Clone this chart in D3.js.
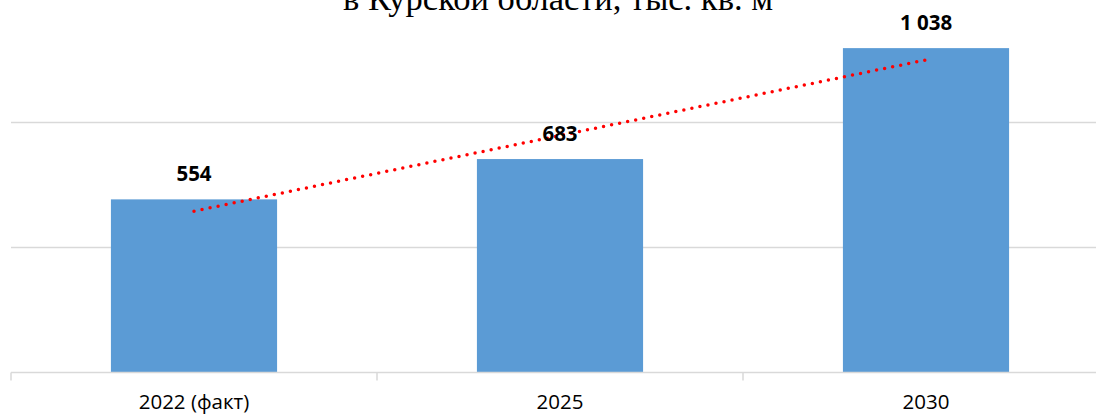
<!DOCTYPE html>
<html>
<head>
<meta charset="utf-8">
<script src="https://cdn.jsdelivr.net/npm/d3@7"></script>
<style>
    body { margin: 0; background: #fff; }
    svg { display: block; }
</style>
</head>
<body>
<div id="chart"></div>
<script>
"use strict";

var categories = ["2022 (факт)", "2025", "2030"];
var values = [554, 683, 1038];
var labels = ["554", "683", "1 038"];
var gridTicks = [0, 400, 800];
var titleText = "в Курской области, тыс. кв. м";

var WIDTH = 1096, HEIGHT = 414;

var svg = d3.select("#chart").append("svg")
    .attr("width", WIDTH)
    .attr("height", HEIGHT);

var x = d3.scaleBand()
    .domain(categories)
    .range([11, 1109])
    .paddingInner(0.546)
    .paddingOuter(0.273);

var y = d3.scaleLinear()
    .domain([0, 1200])
    .range([372.5, -2.5]);

// title - the original picture is cropped through it
svg.append("text")
    .attr("x", 558)
    .attr("y", 9.5)
    .attr("text-anchor", "middle")
    .style("font-family", "'Liberation Serif', 'Times New Roman', serif")
    .style("font-size", "34.5px")
    .style("fill", "#000")
    .text(titleText);

// gridlines
svg.append("g")
    .selectAll("line")
    .data(gridTicks.filter(function(d) { return d > 0; }))
    .enter().append("line")
    .attr("x1", 11)
    .attr("x2", 1109)
    .attr("y1", function(d) { return y(d); })
    .attr("y2", function(d) { return y(d); })
    .attr("stroke", "#d9d9d9")
    .attr("stroke-width", 1.5);

// bars
svg.append("g")
    .selectAll("rect")
    .data(values)
    .enter().append("rect")
    .attr("x", function(d, i) { return x(categories[i]); })
    .attr("width", x.bandwidth())
    .attr("y", function(d) { return y(d); })
    .attr("height", function(d) { return y(0) - y(d); })
    .attr("fill", "#5b9bd5");

// category axis: line with ticks on band boundaries
var axis = svg.append("g");
axis.append("line")
    .attr("x1", 11).attr("x2", 1109)
    .attr("y1", y(0)).attr("y2", y(0))
    .attr("stroke", "#d9d9d9")
    .attr("stroke-width", 1.5);

var bounds = d3.range(categories.length + 1).map(function(i) {
    return 11 + i * x.step();
});
axis.selectAll(".tick")
    .data(bounds)
    .enter().append("line")
    .attr("class", "tick")
    .attr("x1", function(d) { return d; })
    .attr("x2", function(d) { return d; })
    .attr("y1", y(0))
    .attr("y2", y(0) + 8)
    .attr("stroke", "#d9d9d9")
    .attr("stroke-width", 1.5);

axis.selectAll("text")
    .data(categories)
    .enter().append("text")
    .attr("x", function(d) { return x(d) + x.bandwidth() / 2; })
    .attr("y", 409)
    .attr("text-anchor", "middle")
    .style("font-family", "'Open Sans', sans-serif")
    .style("font-size", "20.5px")
    .style("fill", "#000")
    .text(function(d) { return d; });

// linear trendline (least squares over category index, like Excel)
var idx = values.map(function(d, i) { return i + 1; });
var mx = d3.mean(idx), my = d3.mean(values);
var slope = d3.sum(idx, function(d, i) { return (d - mx) * (values[i] - my); }) /
    d3.sum(idx, function(d) { return (d - mx) * (d - mx); });
var intercept = my - slope * mx;
var trendEnds = [idx[0], idx[idx.length - 1]].map(function(k) {
    return { cat: categories[k - 1], v: intercept + slope * k };
});

svg.append("path")
    .datum(trendEnds)
    .attr("d", d3.line()
        .x(function(d) { return x(d.cat) + x.bandwidth() / 2; })
        .y(function(d) { return y(d.v); }))
    .attr("fill", "none")
    .attr("stroke", "#ff0000")
    .attr("stroke-width", 3.5)
    .attr("stroke-linecap", "round")
    .attr("stroke-dasharray", "0 8.2");

// data labels
svg.append("g")
    .selectAll("text")
    .data(values)
    .enter().append("text")
    .attr("x", function(d, i) { return x(categories[i]) + x.bandwidth() / 2; })
    .attr("y", function(d) { return y(d) - 18; })
    .attr("text-anchor", "middle")
    .style("font-family", "'Open Sans', sans-serif")
    .style("font-weight", "bold")
    .style("font-size", "20.5px")
    .style("fill", "#000")
    .text(function(d, i) { return labels[i]; });
</script>
</body>
</html>
